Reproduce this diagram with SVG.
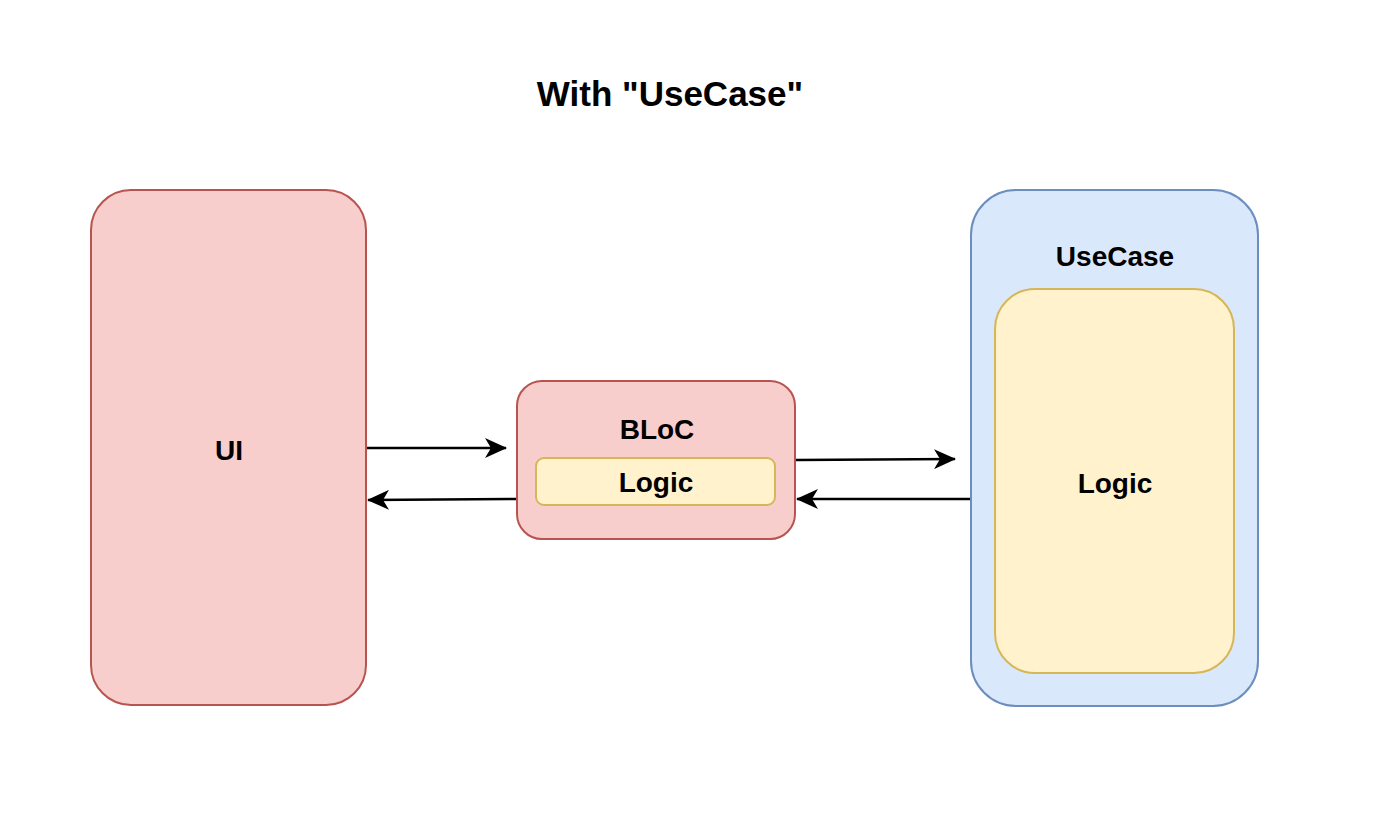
<svg xmlns="http://www.w3.org/2000/svg" width="1400" height="822" viewBox="0 0 1400 822">
<style>
.red{fill:#f8cecc;stroke:#b85450;stroke-width:2}
.yel{fill:#fff2cc;stroke:#d6b656;stroke-width:2}
.blue{fill:#dae8fc;stroke:#6c8ebf;stroke-width:2}
text{font-family:"Liberation Sans",Arial,sans-serif;font-weight:bold;fill:#000;text-anchor:middle}
.lbl{font-size:28px}
.edge{fill:none;stroke:#000;stroke-width:2.5}
</style>
<defs>
<marker id="arr" viewBox="0 0 22 20" refX="21" refY="10" markerWidth="22" markerHeight="20" markerUnits="userSpaceOnUse" orient="auto">
<path d="M0,0 L22,10 L0,20 L6,10 Z" fill="#000"/>
</marker>
</defs>
<rect width="1400" height="822" fill="#fff"/>
<text x="670" y="106" style="font-size:35px">With "UseCase"</text>
<g id="ui">
<rect class="red" x="91" y="190" width="275" height="515" rx="40"/>
<text class="lbl" x="229" y="460">UI</text>
</g>
<g id="bloc">
<rect class="red" x="517" y="381" width="278" height="158" rx="25"/>
<text class="lbl" x="657" y="439">BLoC</text>
<g id="bloc-logic">
<rect class="yel" x="536" y="458" width="239" height="47" rx="8"/>
<text class="lbl" x="656" y="492">Logic</text>
</g>
</g>
<g id="usecase">
<rect class="blue" x="971" y="190" width="287" height="516" rx="45"/>
<text class="lbl" x="1115" y="266">UseCase</text>
<g id="usecase-logic">
<rect class="yel" x="995" y="289" width="239" height="384" rx="40"/>
<text class="lbl" x="1115" y="493">Logic</text>
</g>
</g>
<g id="connectors">
<path class="edge" d="M367,448 L506,448" marker-end="url(#arr)"/>
<path class="edge" d="M516,499 L368,500" marker-end="url(#arr)"/>
<path class="edge" d="M796,460 L955,459" marker-end="url(#arr)"/>
<path class="edge" d="M970,499 L797,499" marker-end="url(#arr)"/>
</g>
</svg>
